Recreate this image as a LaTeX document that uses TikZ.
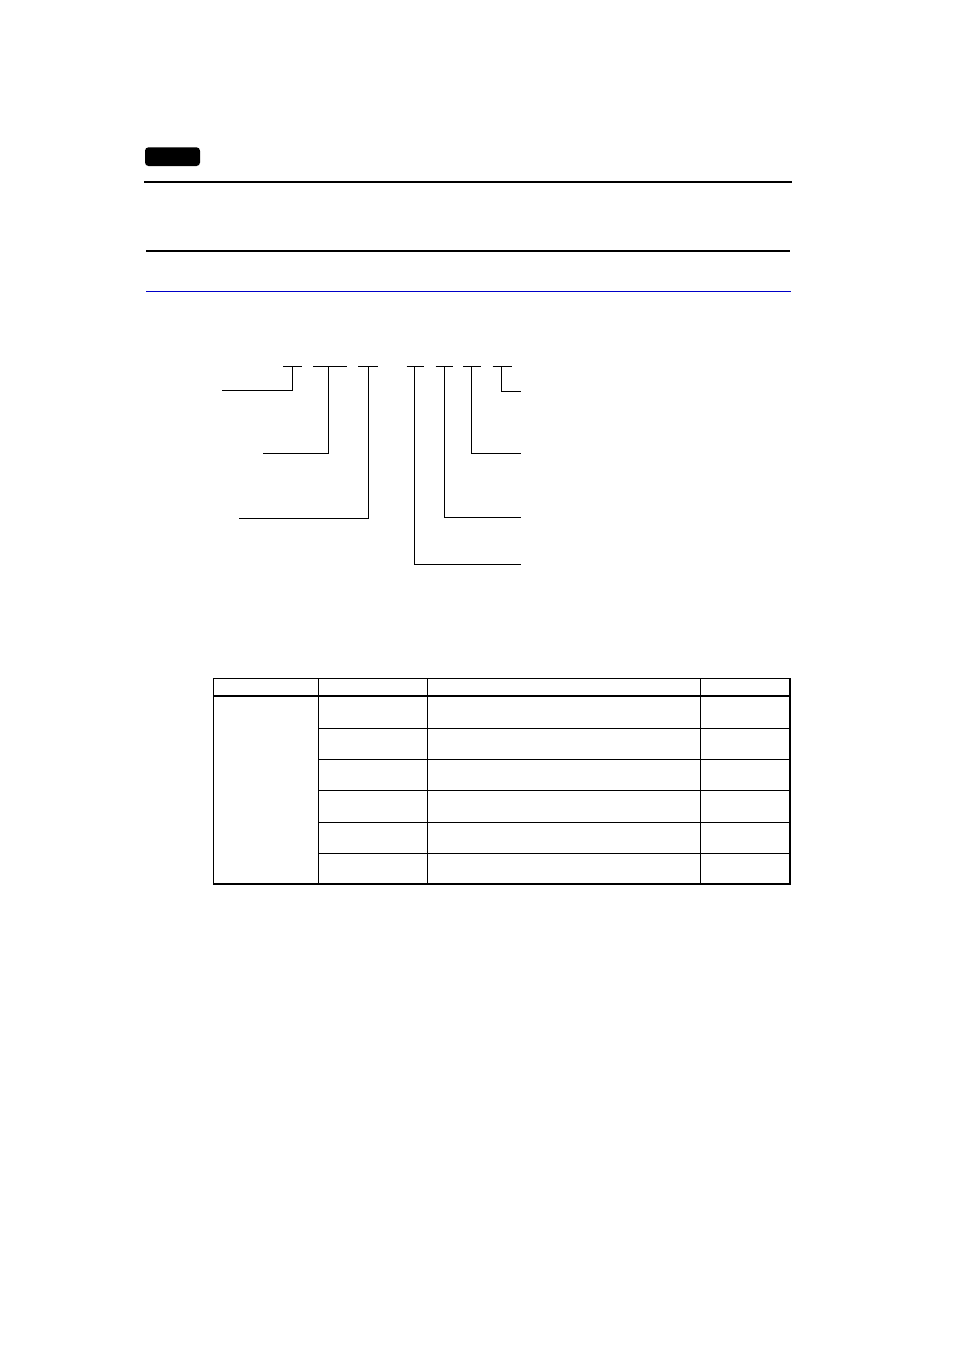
\documentclass[tikz,border=0pt]{standalone}
\usepackage{tikz}
\definecolor{rulblue}{RGB}{0,0,200}
\tikzset{
  thickrule/.style={line width=2.2pt},
  bluerule/.style={line width=1pt, draw=rulblue},
  treeline/.style={line width=1pt},
  tabline/.style={line width=1.3pt}
}
\begin{document}
\begin{tikzpicture}[x=1pt,y=-1pt]
\useasboundingbox[fill=white] (0,0) rectangle (954,1350);
% header tab
\fill[rounded corners=3.5pt] (145,147.3) rectangle (200,166);
% rules
\draw[thickrule] (144,181.7) -- (791.7,181.7);
\draw[thickrule] (146,250.7) -- (790,250.7);
\draw[bluerule] (146,291.3) -- (790.7,291.3);
% code segments
\foreach \a/\b/\n in {283.3/302.3/s1, 313.3/346.7/s2, 358.3/377.7/s3, 406.7/424.3/s4, 435.7/453.3/s5, 463.3/481/s6, 492.7/511.7/s7}{
  \coordinate (\n l) at (\a,366.7);
  \coordinate (\n r) at (\b,366.7);
  \draw[treeline] (\n l) -- (\n r);
}
% left leaders
\coordinate (t1) at (292.3,366.7); \coordinate (e1) at (222.3,390);
\coordinate (t2) at (328.3,366.7); \coordinate (e2) at (263.3,453.3);
\coordinate (t3) at (368.3,366.7); \coordinate (e3) at (239.3,518.3);
\draw[treeline] (t1) |- (e1);
\draw[treeline] (t2) |- (e2);
\draw[treeline] (t3) |- (e3);
% right leaders
\coordinate (t4) at (414.3,366.7); \coordinate (e4) at (520.7,564.3);
\coordinate (t5) at (444.3,366.7); \coordinate (e5) at (520.7,517.7);
\coordinate (t6) at (471.7,366.7); \coordinate (e6) at (520.7,453.3);
\coordinate (t7) at (501,366.7);   \coordinate (e7) at (520.7,391.7);
\draw[treeline] (t4) |- (e4);
\draw[treeline] (t5) |- (e5);
\draw[treeline] (t6) |- (e6);
\draw[treeline] (t7) |- (e7);
% table
\draw[tabline] (213.3,678.3) rectangle (790,884);
\draw[tabline] (213.3,696) -- (790,696);
\foreach \y in {728.3,759.3,790.3,822.3,853.3}{
  \draw[tabline] (318.3,\y) -- (790,\y);
}
\foreach \x in {318.3,427.3,700.7}{
  \draw[tabline] (\x,678.3) -- (\x,884);
}
\end{tikzpicture}
\end{document}
